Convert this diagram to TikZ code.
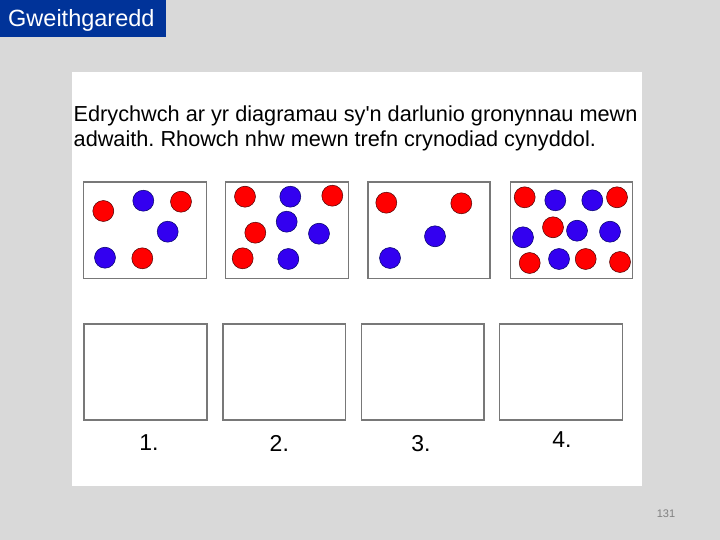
\documentclass[tikz,border=0pt]{standalone}
\usepackage{fontspec}
\setmainfont{Liberation Sans}
\newfontfamily\plainsans{Liberation Sans}
\frenchspacing
\definecolor{bg}{RGB}{217,217,217}
\definecolor{titleblue}{RGB}{0,51,153}
\definecolor{dotred}{RGB}{255,0,0}
\definecolor{dotblue}{RGB}{51,0,240}
\definecolor{boxgray}{RGB}{120,120,120}
\begin{document}
\begin{tikzpicture}[x=1pt,y=-1pt,
  framebox/.style={draw=boxgray,line width=1.3pt,fill=white,inner sep=0pt,anchor=north west},
  rdot/.style={circle,fill=dotred,draw=black!70!red,line width=0.5pt,minimum size=21pt,inner sep=0pt},
  bdot/.style={circle,fill=dotblue,draw=black!60!blue,line width=0.5pt,minimum size=21pt,inner sep=0pt},
  body/.style={inner sep=0pt,anchor=base west,font=\plainsans\fontsize{21.7}{26}\selectfont},
  num/.style={inner sep=0pt,anchor=base,font=\fontsize{23}{27}\selectfont}]
\fill[bg] (0,0) rectangle (720,540);
\useasboundingbox (0,0) rectangle (720,540);
\fill[white] (72.3,72) rectangle (641.7,486);
% title
\node[fill=titleblue,anchor=north west,minimum width=165.5pt,minimum height=36.5pt,inner sep=0pt] (titlebox) at (0,0) {};
\node[text=white,inner sep=0pt,anchor=base west,font=\fontsize{23.5}{28}\selectfont] (title) at (8,26.5) {Gweithgaredd};
% instructions
\node[body] (line1) at (73.5,121.5) {Edrychwch ar yr diagramau sy'n darlunio gronynnau mewn};
\node[body] (line2) at (73.5,146.2) {adwaith. Rhowch nhw mewn trefn crynodiad cynyddol.};
% top boxes
\node[framebox,minimum width=123pt,minimum height=96pt] (t1) at (82.5,181.5) {};
\node[framebox,minimum width=123pt,minimum height=96pt] (t2) at (224.5,181.5) {};
\node[framebox,minimum width=122pt,minimum height=96pt] (t3) at (367.3,181.5) {};
\node[framebox,minimum width=122pt,minimum height=96pt] (t4) at (509.5,181.5) {};
% box 1
\node[rdot] (a1) at (103.3,211) {};
\node[bdot] (a2) at (143.3,200.7) {};
\node[rdot] (a3) at (181,201.7) {};
\node[bdot] (a4) at (167.7,231.7) {};
\node[bdot] (a5) at (105,257.7) {};
\node[rdot] (a6) at (142.3,258.3) {};
% box 2
\node[rdot] (b1) at (245,196.7) {};
\node[bdot] (b2) at (290.3,196.7) {};
\node[rdot] (b3) at (332.3,195.7) {};
\node[bdot] (b4) at (286.7,221.7) {};
\node[rdot] (b5) at (255.3,232.7) {};
\node[bdot] (b6) at (319,233.7) {};
\node[rdot] (b7) at (242.7,258.3) {};
\node[bdot] (b8) at (288.3,259) {};
% box 3
\node[rdot] (c1) at (386.3,202.7) {};
\node[rdot] (c2) at (461.3,203.3) {};
\node[bdot] (c3) at (435,236.3) {};
\node[bdot] (c4) at (390,258) {};
% box 4
\node[rdot] (d1) at (524.7,197.3) {};
\node[bdot] (d2) at (555.3,200.3) {};
\node[bdot] (d3) at (592.3,200.3) {};
\node[rdot] (d4) at (617,197.3) {};
\node[rdot] (d5) at (553,227.3) {};
\node[bdot] (d6) at (577,230.7) {};
\node[bdot] (d7) at (610,231.7) {};
\node[bdot] (d8) at (523,237.3) {};
\node[rdot] (d9) at (529.7,263) {};
\node[bdot] (d10) at (559,259) {};
\node[rdot] (d11) at (585.7,259) {};
\node[rdot] (d12) at (620,262) {};
% bottom boxes
\node[framebox,minimum width=123pt,minimum height=96pt] (e1) at (83.3,323.3) {};
\node[framebox,minimum width=122.7pt,minimum height=96pt] (e2) at (222.3,323.3) {};
\node[framebox,minimum width=122.7pt,minimum height=96pt] (e3) at (360.7,323.3) {};
\node[framebox,minimum width=123pt,minimum height=96pt] (e4) at (498.7,323.3) {};
\node[num] (n1) at (149,450) {1.};
\node[num] (n2) at (279.3,451) {2.};
\node[num] (n3) at (421,451.7) {3.};
\node[num] (n4) at (562,447.7) {4.};
% page number
\node[text=black!50,inner sep=0pt,font=\fontsize{11}{13}\selectfont] (page) at (666,514) {131};
\end{tikzpicture}
\end{document}
